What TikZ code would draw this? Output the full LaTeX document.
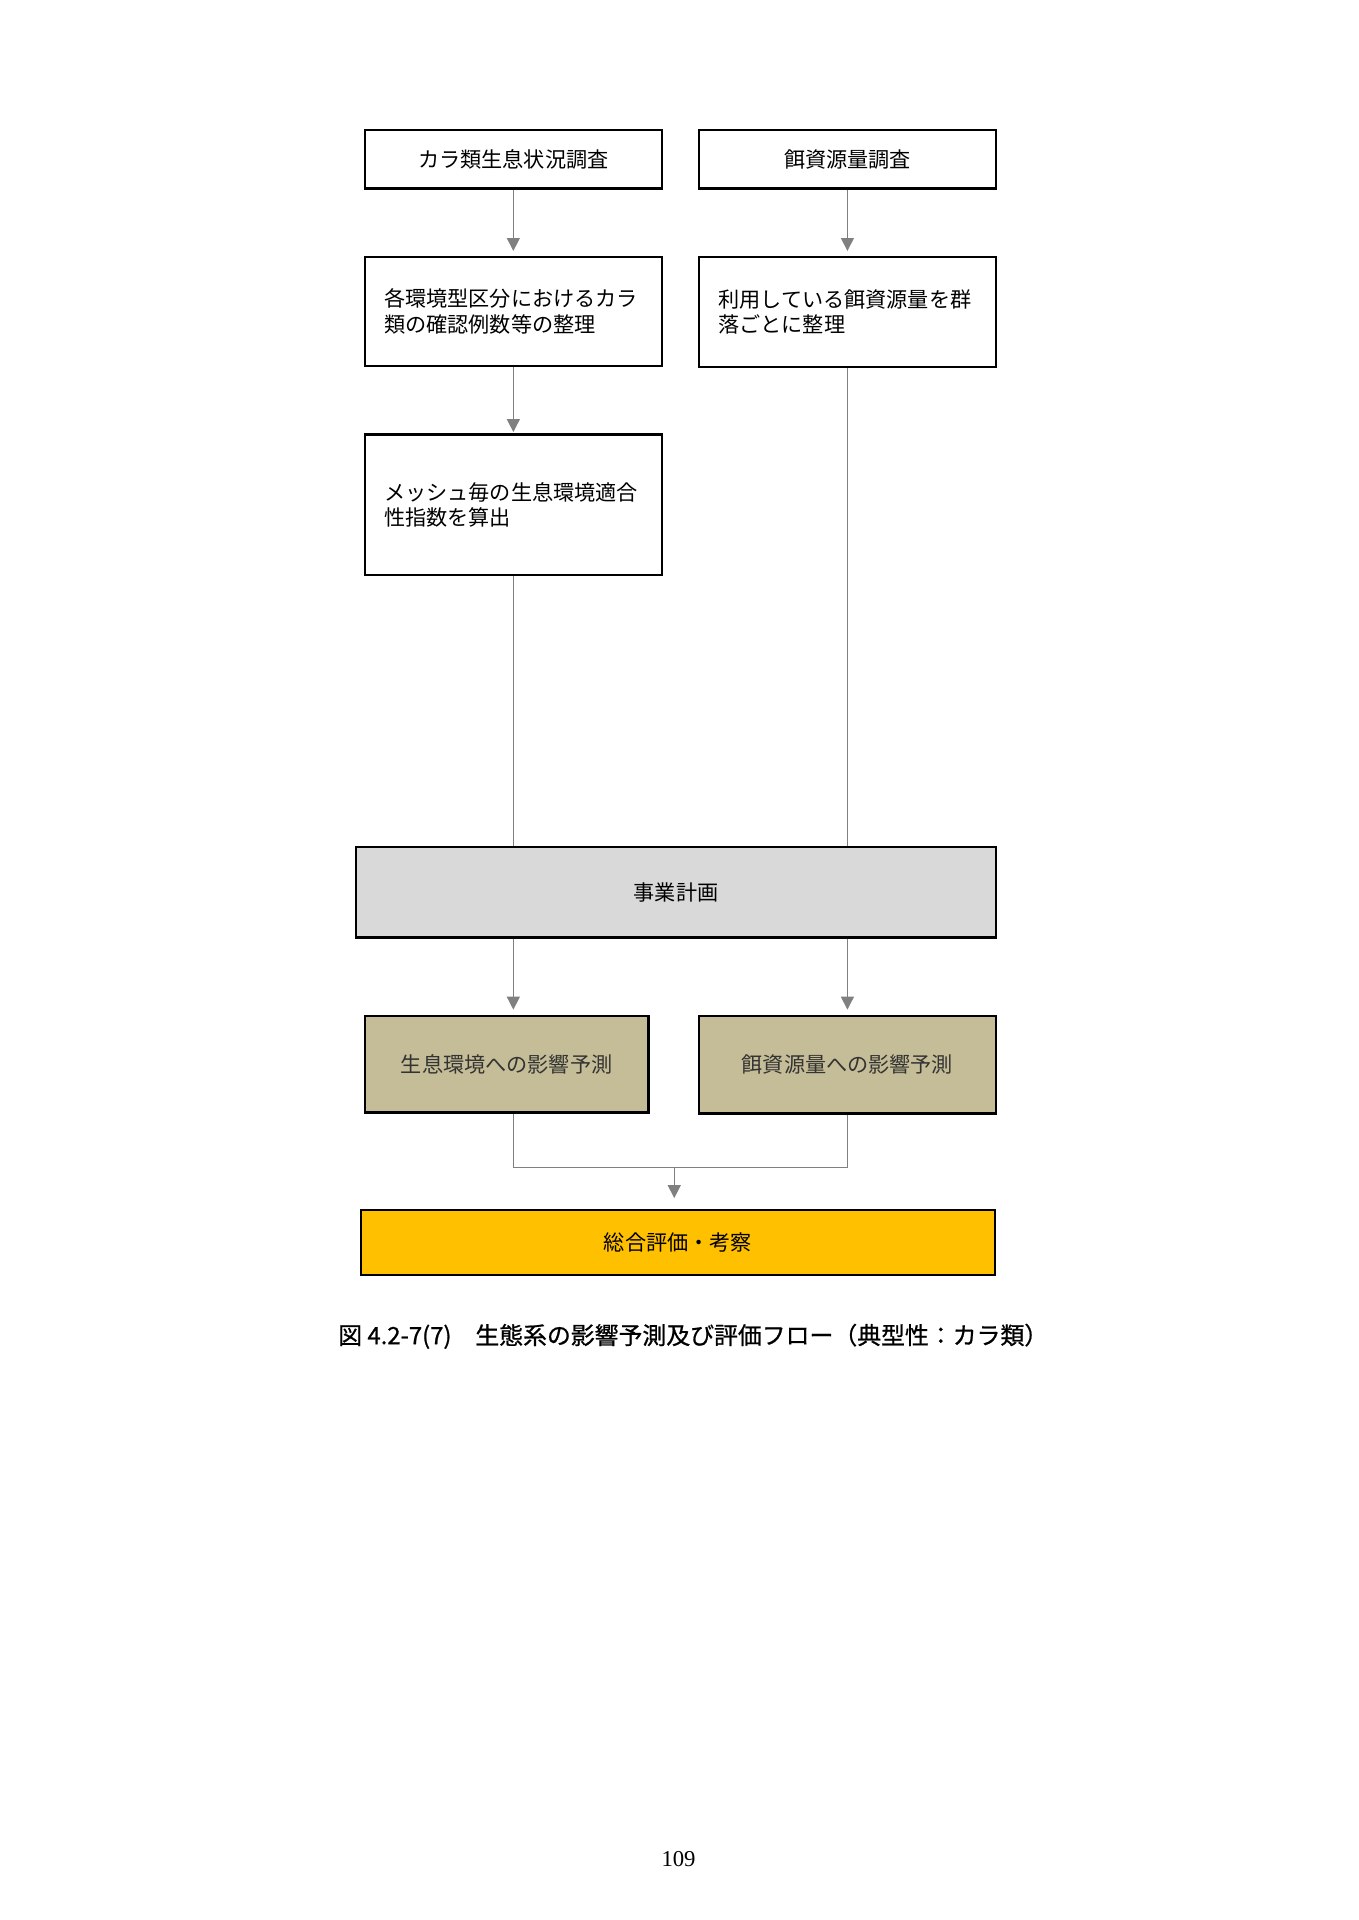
\documentclass[tikz,border=0pt]{standalone}
\usepackage{fontspec}
\usepackage{xcolor}
\usetikzlibrary{arrows.meta}

\newfontfamily\jpfont{Noto Sans CJK JP}
\newfontfamily\capfont[FakeBold=0.8]{Noto Sans CJK JP}
\newfontfamily\pagefont{Liberation Serif}
\definecolor{planGray}{HTML}{D9D9D9}
\definecolor{predTan}{HTML}{C4BD97}
\definecolor{evalGold}{HTML}{FFC000}
\definecolor{lineGray}{HTML}{808080}
\newdimen\pxu \pxu=0.018919cm

\begin{document}
\begin{tikzpicture}[x=0.018919cm, y=-0.018919cm,
    box/.style={draw=black, line width=1pt, inner sep=0pt, align=center,
        font=\jpfont\fontsize{9.3}{11.3}\selectfont},
    note/.style={box, align=left, text width=211\pxu, inner xsep=16\pxu},
    link/.style={draw=lineGray, line width=0.6pt},
    arrow/.style={link, -{Triangle[length=2mm, width=2mm]}}]
    \useasboundingbox (0,0) rectangle (1110,1569);

    % Surveys
    \node[box, minimum width=243\pxu, minimum height=48\pxu] (survey) at (419.5,130) {カラ類生息状況調査};
    \node[box, minimum width=243\pxu, minimum height=48\pxu] (food) at (692.5,130) {餌資源量調査};

    % Sorting
    \node[note, minimum height=89\pxu] (count) at (419.5,254.5) {各環境型区分におけるカラ\\類の確認例数等の整理};
    \node[note, minimum height=90\pxu] (useFood) at (692.5,255) {利用している餌資源量を群\\落ごとに整理};
    \node[note, minimum height=115\pxu] (index) at (419.5,412.5) {メッシュ毎の生息環境適合\\性指数を算出};

    % Plan
    \node[box, fill=planGray, minimum width=523\pxu, minimum height=74\pxu] (plan) at (552.5,729) {事業計画};

    % Predictions
    \node[box, fill=predTan, text=black!80, minimum width=232\pxu, minimum height=79\pxu] (habitat) at (414,869.5) {生息環境への影響予測};
    \node[box, fill=predTan, text=black!80, minimum width=243\pxu, minimum height=80\pxu] (foodPred) at (692.5,870) {餌資源量への影響予測};

    % Evaluation
    \node[box, fill=evalGold, minimum width=518\pxu, minimum height=53\pxu] (evaluate) at (554,1015.5) {総合評価・考察};

    % Caption
    \node[font=\capfont\fontsize{10.5}{12}\selectfont] (caption) at (566.5,1092) {図 4.2-7(7)　生態系の影響予測及び評価フロー（典型性：カラ類）};
    \node[font=\pagefont\fontsize{10}{12}\selectfont] (pageNum) at (554.5,1519) {109};

    % Arrows
    \draw[arrow, shorten >=4\pxu] (survey) -- (count);
    \draw[arrow, shorten >=4\pxu] (food) -- (useFood);
    \draw[arrow, shorten >=1\pxu] (count) -- (index);
    \draw[link] (index) -- (index |- plan.north);
    \draw[link] (useFood) -- (useFood |- plan.north);
    \draw[arrow, shorten >=4\pxu] (plan.south -| index) -- (habitat.north -| index);
    \draw[arrow, shorten >=4\pxu] (plan.south -| foodPred) -- (foodPred);
    \coordinate (merge) at (551,954);
    \draw[link] (habitat.south -| index) |- (merge) -| (foodPred.south);
    \draw[arrow, shorten >=9\pxu] (merge) -- (merge |- evaluate.north);

\end{tikzpicture}
\end{document}
